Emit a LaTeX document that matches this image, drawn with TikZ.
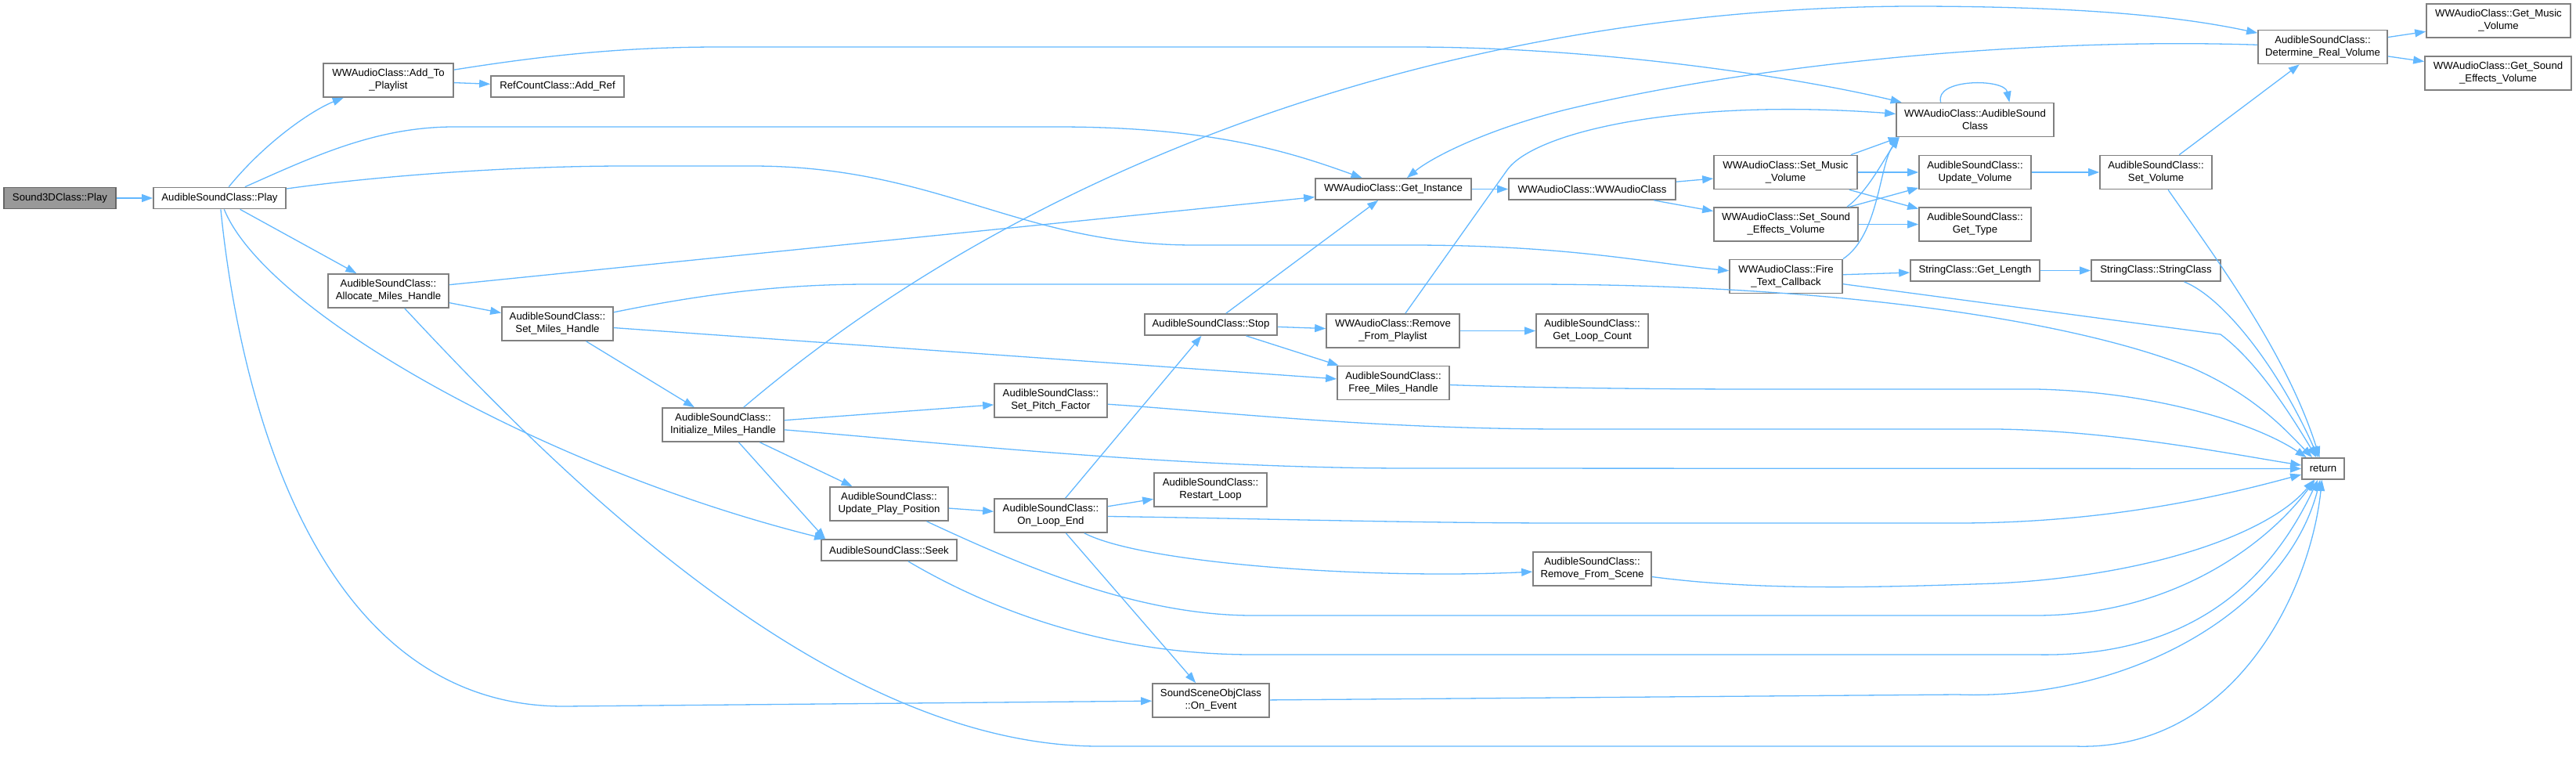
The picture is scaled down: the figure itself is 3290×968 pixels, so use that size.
\documentclass[tikz,border=0pt]{standalone}
\usepackage{fontspec}
\setmainfont{Liberation Sans}
\usetikzlibrary{arrows.meta}
\definecolor{cgedge}{RGB}{99, 184, 255}
\definecolor{cgborder}{RGB}{128, 128, 128}
\definecolor{cgroot}{RGB}{153, 153, 153}
\definecolor{cgrootborder}{RGB}{102, 102, 102}
\tikzset{
  func/.style={rectangle, draw=cgborder, fill=white, line width=0.85pt, inner sep=2pt,
               align=center, font=\fontsize{6.6}{8}\selectfont,
               minimum width=#1*0.5pt, minimum height=13.5pt},
  func/.default=150,
  rootfunc/.style={func=#1, fill=cgroot, draw=cgrootborder},
  tall/.style={minimum height=21.5pt},
  call/.style={-{Triangle[length=7pt,width=5pt]}, draw=cgedge, line width=0.65pt},
}

\begin{document}
\begin{tikzpicture}[x=0.5pt, y=-0.5pt]
  \useasboundingbox (0,0) rectangle (3290,968);

  % Entry point
  \node[rootfunc=143] (sdplay) at (76.5,253) {Sound3DClass::Play};
  \node[func=169] (asplay) at (280.5,253) {AudibleSoundClass::Play};

  % Handle set-up
  \node[func=166, tall] (addpl) at (496,102.5) {WWAudioClass::Add\_To\\\_Playlist};
  \node[func=154, tall] (alloc) at (496,371.5) {AudibleSoundClass::\\Allocate\_Miles\_Handle};
  \node[func=170] (addref) at (712,110.5) {RefCountClass::Add\_Ref};
  \node[func=142, tall] (setmh) at (712,413.5) {AudibleSoundClass::\\Set\_Miles\_Handle};
  \node[func=155, tall] (initmh) at (923.5,542.5) {AudibleSoundClass::\\Initialize\_Miles\_Handle};
  \node[func=151, tall] (updpp) at (1135.5,643.5) {AudibleSoundClass::\\Update\_Play\_Position};
  \node[func=173] (seek) at (1135.5,702.5) {AudibleSoundClass::Seek};
  \node[func=144, tall] (pitch) at (1342,511.5) {AudibleSoundClass::\\Set\_Pitch\_Factor};
  \node[func=144, tall] (loopend) at (1342,658.5) {AudibleSoundClass::\\On\_Loop\_End};
  \node[func=169] (stop) at (1546.5,414.5) {AudibleSoundClass::Stop};
  \node[func=144, tall] (restart) at (1546,625.5) {AudibleSoundClass::\\Restart\_Loop};
  \node[func=149, tall] (onevent) at (1546.5,894.5) {SoundSceneObjClass\\::On\_Event};

  % Audio manager
  \node[func=199] (getinst) at (1779.5,241.5) {WWAudioClass::Get\_Instance};
  \node[func=170, tall] (rmpl) at (1779,422.5) {WWAudioClass::Remove\\\_From\_Playlist};
  \node[func=143, tall] (freemh) at (1779.5,489) {AudibleSoundClass::\\Free\_Miles\_Handle};
  \node[func=213] (wwac) at (2033.5,241.5) {WWAudioClass::WWAudioClass};
  \node[func=143, tall] (loopcnt) at (2033.5,422.5) {AudibleSoundClass::\\Get\_Loop\_Count};
  \node[func=151, tall] (rmscene) at (2033.5,726.5) {AudibleSoundClass::\\Remove\_From\_Scene};
  \node[func=183, tall] (setmusic) at (2280.5,220) {WWAudioClass::Set\_Music\\\_Volume};
  \node[func=184, tall] (setsfx) at (2281,286.5) {WWAudioClass::Set\_Sound\\\_Effects\_Volume};
  \node[func=144, tall] (fire) at (2281,353) {WWAudioClass::Fire\\\_Text\_Callback};

  % Volume and strings
  \node[func=201, tall] (asctor) at (2522.5,153) {WWAudioClass::AudibleSound\\Class};
  \node[func=143, tall] (updvol) at (2522.5,220) {AudibleSoundClass::\\Update\_Volume};
  \node[func=143, tall] (gettype) at (2522.5,286.5) {AudibleSoundClass::\\Get\_Type};
  \node[func=165] (getlen) at (2522.5,345.5) {StringClass::Get\_Length};
  \node[func=143, tall] (setvol) at (2753.5,220) {AudibleSoundClass::\\Set\_Volume};
  \node[func=165] (strctor) at (2753.5,345.5) {StringClass::StringClass};
  \node[func=165, tall] (detvol) at (2966.5,60) {AudibleSoundClass::\\Determine\_Real\_Volume};
  \node[func=54] (ret) at (2967,598.5) {return};
  \node[func=184, tall] (getmusic) at (3191,26.5) {WWAudioClass::Get\_Music\\\_Volume};
  \node[func=187, tall] (getsfx) at (3190.5,93.5) {WWAudioClass::Get\_Sound\\\_Effects\_Volume};

  % Calls from the entry point
  \draw[call] (sdplay) -- (asplay);
  \draw[call] (asplay) .. controls (340,180) and (400,140) .. (addpl);
  \draw[call] (asplay) .. controls (400,200) and (480,162) .. (580,162) -- (1350,162)
       .. controls (1550,162) and (1650,195) .. (getinst);
  \draw[call] (asplay) .. controls (480,225) and (650,212) .. (800,212) -- (960,212)
       .. controls (1200,212) and (1300,313) .. (1525,313) -- (1800,313)
       .. controls (2000,313) and (2100,335) .. (fire);
  \draw[call] (asplay) -- (alloc);
  \draw[call] (asplay) .. controls (340,400) and (700,600) .. (seek.170);
  \draw[call] (asplay) .. controls (300,450) and (380,902) .. (720,902) -- (onevent);

  % Playlist and handle set-up
  \draw[call] (addpl) -- (addref);
  \draw[call] (addpl) .. controls (700,70) and (800,60) .. (920,60) -- (1800,60)
       .. controls (2050,60) and (2300,100) .. (asctor);
  \draw[call] (alloc) -- (getinst);
  \draw[call] (alloc) -- (setmh);
  \draw[call] (alloc) .. controls (700,590) and (1050,950) .. (1400,953) -- (2650,953)
       .. controls (2850,960) and (2950,760) .. (ret);
  \draw[call] (setmh) -- (initmh);
  \draw[call] (setmh) -- (freemh);
  \draw[call] (setmh) .. controls (900,375) and (1000,363) .. (1110,363) -- (1950,363)
       .. controls (2350,363) and (2650,410) .. (2800,470)
       .. controls (2880,505) and (2920,550) .. (ret);
  \draw[call] (initmh) .. controls (1350,180) and (1900,10) .. (2440,8)
       .. controls (2650,8) and (2780,20) .. (detvol);
  \draw[call] (initmh) -- (pitch);
  \draw[call] (initmh) .. controls (1200,565) and (1500,598) .. (1800,598) -- (ret);
  \draw[call] (initmh) -- (updpp);
  \draw[call] (initmh) -- (seek.170);
  \draw[call] (pitch) .. controls (1550,525) and (1750,548) .. (2000,548) -- (2550,548)
       .. controls (2700,550) and (2850,580) .. (ret);
  \draw[call] (updpp) -- (loopend);
  \draw[call] (updpp) .. controls (1300,720) and (1450,786) .. (1600,786) -- (2600,786)
       .. controls (2780,786) and (2900,690) .. (ret);
  \draw[call] (seek) .. controls (1250,770) and (1400,836) .. (1600,836) -- (2600,836)
       .. controls (2800,840) and (2900,740) .. (ret);

  % Loop end and stop
  \draw[call] (loopend) -- (stop);
  \draw[call] (loopend) -- (restart);
  \draw[call] (loopend) .. controls (1600,662) and (1800,668) .. (2000,668) -- (2500,668)
       .. controls (2700,668) and (2850,630) .. (ret);
  \draw[call] (loopend) .. controls (1460,720) and (1750,740) .. (rmscene);
  \draw[call] (loopend) -- (onevent);
  \draw[call] (rmscene) .. controls (2250,755) and (2400,750) .. (2550,745)
       .. controls (2750,735) and (2900,680) .. (ret);
  \draw[call] (onevent) -- (2500,887) .. controls (2720,895) and (2920,780) .. (ret);
  \draw[call] (freemh) .. controls (1950,495) and (2100,497) .. (2250,497) -- (2600,497)
       .. controls (2750,500) and (2880,540) .. (ret);
  \draw[call] (stop) -- (rmpl);
  \draw[call] (stop) -- (freemh);
  \draw[call] (stop) -- (getinst);
  \draw[call] (rmpl) -- (1925,217) .. controls (1960,168) and (2150,125) .. (asctor);
  \draw[call] (rmpl) -- (loopcnt);

  % Audio manager calls
  \draw[call] (getinst) -- (wwac);
  \draw[call] (wwac) -- (setmusic);
  \draw[call] (wwac) -- (setsfx);
  \draw[call] (detvol) .. controls (2600,48) and (2250,80) .. (2000,140)
       .. controls (1900,165) and (1830,200) .. (getinst);
  \draw[call] (setmusic.15) -- (asctor.193);
  \draw[call] (setmusic) -- (updvol);
  \draw[call] (setmusic) -- (gettype);
  \draw[call] (setsfx.16) .. controls (2385,245) and (2405,205) .. (asctor.193);
  \draw[call] (setsfx) -- (updvol);
  \draw[call] (setsfx) -- (gettype);
  \draw[call] (fire.north east) .. controls (2400,300) and (2400,210) .. (asctor.193);
  \draw[call] (fire) -- (getlen);
  \draw[call] (fire) -- (2836,427) .. controls (2880,460) and (2920,520) .. (ret);

  % Volume and strings
  \draw[call] (updvol) -- (setvol);
  \draw[call] (setvol) -- (detvol);
  \draw[call] (setvol) .. controls (2830,330) and (2920,450) .. (ret);
  \draw[call] (getlen) -- (strctor);
  \draw[call] (strctor) .. controls (2840,380) and (2910,470) .. (ret);
  \draw[call] (detvol) -- (getmusic);
  \draw[call] (detvol) -- (getsfx.171);
  \draw[call] (asctor.153) .. controls (2470,100) and (2560,100) .. (asctor.27);
\end{tikzpicture}
\end{document}
